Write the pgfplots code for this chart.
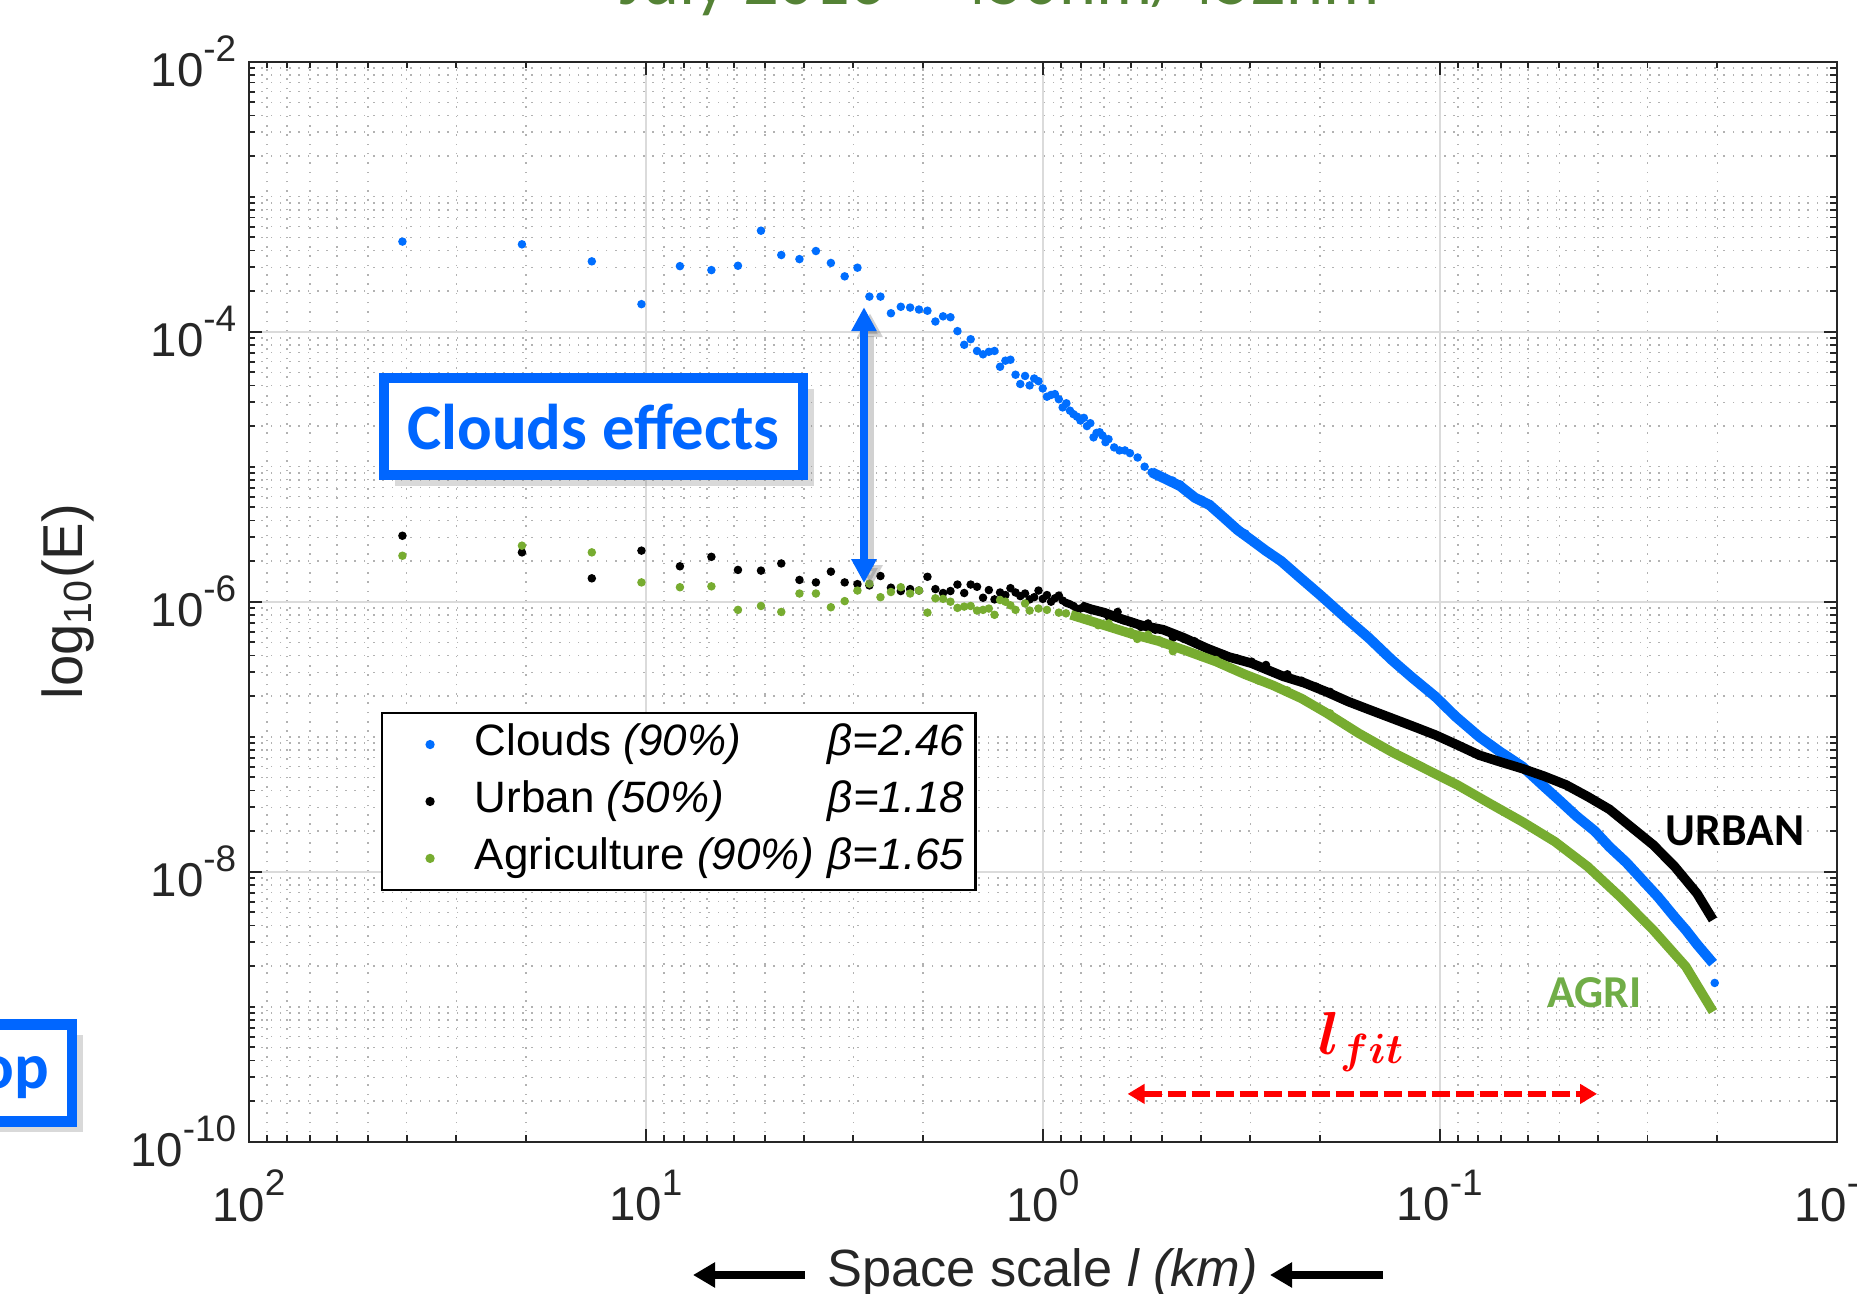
\documentclass[border=0pt]{standalone}
\usepackage{pgfplots}
\pgfplotsset{compat=1.18}
\usepackage{fontspec}
\setmainfont{Liberation Sans}
\newfontfamily\carlito{Carlito}
\usepackage{bm}
\usetikzlibrary{arrows.meta,shadows}
\definecolor{cblue}{RGB}{0,110,255}
\definecolor{cgreen}{RGB}{119,172,48}
\definecolor{boxblue}{RGB}{0,102,255}
\definecolor{agri}{RGB}{112,173,71}
\definecolor{titlegreen}{RGB}{84,130,53}
\definecolor{axgray}{RGB}{38,38,38}
\newcommand{\tlab}[1]{10\raisebox{0.53em}{\fontsize{10.5}{10.5}\selectfont #1}}

\pgfplotstableread{
l E
41 4.65e-4
20.5 4.44e-4
13.67 3.32e-4
10.25 1.60e-4
8.2 3.06e-4
6.833 2.86e-4
5.857 3.08e-4
5.125 5.60e-4
4.556 3.70e-4
4.1 3.45e-4
3.727 3.96e-4
3.417 3.23e-4
3.154 2.57e-4
2.929 2.98e-4
2.733 1.82e-4
2.563 1.82e-4
2.412 1.37e-4
2.278 1.53e-4
2.158 1.51e-4
2.05 1.46e-4
1.952 1.43e-4
1.864 1.19e-4
1.783 1.30e-4
1.708 1.28e-4
1.64 1.01e-4
1.577 8.0e-5
1.519 8.8e-5
1.464 7.2e-5
1.414 6.8e-5
1.367 7.1e-5
1.323 7.2e-5
1.281 5.5e-5
1.242 6.1e-5
1.206 6.2e-5
1.171 4.8e-5
1.139 4.1e-5
1.108 4.7e-5
1.079 4.0e-5
1.051 4.5e-5
1.025 4.3e-5
1.0 3.8e-5
0.976 3.3e-5
0.953 3.4e-5
0.932 3.45e-5
0.911 3.16e-5
0.891 2.75e-5
0.872 2.95e-5
0.854 2.6e-5
0.837 2.45e-5
0.82 2.35e-5
0.804 2.2e-5
0.788 2.3e-5
0.774 2.0e-5
0.759 2.1e-5
0.745 1.65e-5
0.732 1.78e-5
0.719 1.8e-5
0.707 1.7e-5
0.695 1.52e-5
0.683 1.6e-5
0.661 1.39e-5
0.641 1.32e-5
0.621 1.32e-5
0.603 1.26e-5
0.577 1.17e-5
0.554 1.0e-5
0.532 9.1e-6
0.513 8.7e-6
0.494 8.3e-6
0.471 7.9e-6
0.451 7.4e-6
0.431 6.5e-6
0.414 5.9e-6
0.398 5.7e-6
0.380 5.3e-6
0.365 4.7e-6
0.350 4.2e-6
0.337 3.8e-6
0.323 3.4e-6
0.309 3.2e-6
0.295 2.8e-6
0.0203 1.5e-9
}\cloudspts

\pgfplotstableread{
l E
0.532 9.1e-6
0.494 8.2e-6
0.451 7.2e-6
0.414 5.9e-6
0.380 5.2e-6
0.350 4.2e-6
0.323 3.4e-6
0.295 2.8e-6
0.275 2.4e-6
0.251 2.0e-6
0.225 1.51e-6
0.2 1.12e-6
0.17 7.3e-7
0.151 5.4e-7
0.132 3.7e-7
0.1175 2.75e-7
0.1026 1.98e-7
0.0912 1.41e-7
0.0796 1.0e-7
0.0708 7.8e-8
0.0619 6.0e-8
0.0546 4.27e-8
0.0501 3.4e-8
0.0452 2.57e-8
0.0407 2.0e-8
0.0374 1.53e-8
0.0339 1.17e-8
0.0309 8.7e-9
0.0282 6.5e-9
0.0256 4.6e-9
0.024 3.7e-9
0.0225 2.9e-9
0.0205 2.1e-9
}\cloudsline

\pgfplotstableread{
l E
41 3.08e-6
20.5 2.32e-6
13.67 1.49e-6
10.25 2.39e-6
8.2 1.83e-6
6.833 2.15e-6
5.857 1.72e-6
5.125 1.70e-6
4.556 1.92e-6
4.1 1.45e-6
3.727 1.39e-6
3.417 1.67e-6
3.154 1.39e-6
2.929 1.35e-6
2.733 1.32e-6
2.563 1.55e-6
2.412 1.27e-6
2.278 1.20e-6
2.158 1.24e-6
2.05 1.21e-6
1.952 1.53e-6
1.864 1.24e-6
1.783 1.16e-6
1.708 1.20e-6
1.64 1.34e-6
1.577 1.16e-6
1.519 1.34e-6
1.464 1.29e-6
1.414 1.07e-6
1.367 1.22e-6
1.323 1.04e-6
1.281 1.17e-6
1.242 1.12e-6
1.206 1.26e-6
1.171 1.17e-6
1.139 1.10e-6
1.108 1.15e-6
1.079 1.04e-6
1.051 1.08e-6
1.025 1.21e-6
1.0 1.05e-6
0.976 1.12e-6
0.953 1.0e-6
0.932 1.06e-6
0.911 1.11e-6
0.891 1.02e-6
0.872 9.8e-7
0.856 9.6e-7
0.837 9.3e-7
0.821 8.9e-7
0.804 8.9e-7
0.788 9.2e-7
0.756 8.7e-7
0.711 8.4e-7
0.682 7.7e-7
0.648 8.4e-7
0.628 7.3e-7
0.596 7.1e-7
0.566 6.5e-7
0.543 6.9e-7
0.521 6.2e-7
0.500 6.2e-7
0.470 5.4e-7
0.441 5.3e-7
0.415 5.1e-7
0.382 4.5e-7
0.352 4.1e-7
0.324 3.8e-7
0.298 3.6e-7
0.274 3.4e-7
0.242 2.9e-7
0.223 2.6e-7
0.205 2.35e-7
0.189 2.15e-7
}\urbanpts

\pgfplotstableread{
l E
0.80 9.3e-7
0.756 8.8e-7
0.70 8.3e-7
0.638 7.5e-7
0.566 6.7e-7
0.497 6.2e-7
0.441 5.4e-7
0.385 4.5e-7
0.340 3.9e-7
0.298 3.5e-7
0.248 2.8e-7
0.219 2.5e-7
0.193 2.15e-7
0.170 1.82e-7
0.150 1.58e-7
0.132 1.37e-7
0.1164 1.19e-7
0.1026 1.03e-7
0.0904 8.7e-8
0.0796 7.3e-8
0.0703 6.5e-8
0.0619 5.8e-8
0.0546 5.1e-8
0.0481 4.4e-8
0.0424 3.6e-8
0.0374 2.9e-8
0.0330 2.15e-8
0.0290 1.58e-8
0.0256 1.09e-8
0.0225 6.9e-9
0.0205 4.4e-9
}\urbanline

\pgfplotstableread{
l E
41 2.19e-6
20.5 2.60e-6
13.67 2.32e-6
10.25 1.39e-6
8.2 1.28e-6
6.833 1.30e-6
5.857 8.7e-7
5.125 9.3e-7
4.556 8.4e-7
4.1 1.15e-6
3.727 1.15e-6
3.417 9.1e-7
3.154 1.01e-6
2.929 1.21e-6
2.733 1.36e-6
2.563 1.08e-6
2.412 1.18e-6
2.278 1.28e-6
2.158 1.15e-6
2.05 1.21e-6
1.952 8.3e-7
1.864 1.06e-6
1.783 1.05e-6
1.708 1.0e-6
1.64 9.0e-7
1.577 9.2e-7
1.519 9.3e-7
1.464 8.6e-7
1.414 8.7e-7
1.367 8.9e-7
1.323 8.0e-7
1.281 1.03e-6
1.242 1.0e-6
1.206 9.4e-7
1.171 8.7e-7
1.108 9.7e-7
1.079 8.6e-7
1.025 8.9e-7
0.976 8.7e-7
0.911 8.3e-7
0.874 8.2e-7
0.821 7.7e-7
0.772 7.5e-7
0.725 6.7e-7
0.682 6.9e-7
0.641 6.2e-7
0.602 6.0e-7
0.578 5.3e-7
0.543 5.7e-7
0.510 5.2e-7
0.470 4.3e-7
0.432 4.3e-7
0.398 3.9e-7
0.366 3.7e-7
0.337 3.2e-7
0.310 2.9e-7
0.286 2.6e-7
0.263 2.4e-7
0.242 2.2e-7
0.223 1.92e-7
0.205 1.67e-7
0.189 1.49e-7
}\agripts

\pgfplotstableread{
l E
0.85 8.0e-7
0.724 6.9e-7
0.600 5.8e-7
0.510 5.1e-7
0.432 4.3e-7
0.366 3.6e-7
0.310 2.9e-7
0.263 2.4e-7
0.223 1.92e-7
0.193 1.50e-7
0.160 1.06e-7
0.132 7.7e-8
0.109 5.8e-8
0.0904 4.4e-8
0.0748 3.2e-8
0.0619 2.34e-8
0.0513 1.67e-8
0.0424 1.09e-8
0.0351 6.5e-9
0.0290 3.7e-9
0.0240 1.98e-9
0.0205 9.2e-10
}\agriline

\begin{document}
\begin{tikzpicture}
\begin{axis}[
  at={(0,0)}, anchor=south west,
  scale only axis, width=15.881cm, height=10.80cm,
  xmode=log, ymode=log,
  x dir=reverse,
  xmin=0.01, xmax=100, ymin=1e-10, ymax=1e-2,
  xtick={0.01,0.1,1,10,100},
  xticklabels={\tlab{-2},\tlab{-1},\tlab{0},\tlab{1},\tlab{2}},
  ytick={1e-10,1e-8,1e-6,1e-4,1e-2},
  yticklabels={\tlab{-10},\tlab{-8},\tlab{-6},\tlab{-4},\tlab{-2}},
  minor xtick={0.02,0.03,0.04,0.05,0.06,0.07,0.08,0.09,0.2,0.3,0.4,0.5,0.6,0.7,0.8,0.9,2,3,4,5,6,7,8,9,20,30,40,50,60,70,80,90},
  minor ytick={2e-10,3e-10,4e-10,5e-10,6e-10,7e-10,8e-10,9e-10,1e-9,2e-9,3e-9,4e-9,5e-9,6e-9,7e-9,8e-9,9e-9,2e-8,3e-8,4e-8,5e-8,6e-8,7e-8,8e-8,9e-8,1e-7,2e-7,3e-7,4e-7,5e-7,6e-7,7e-7,8e-7,9e-7,2e-6,3e-6,4e-6,5e-6,6e-6,7e-6,8e-6,9e-6,1e-5,2e-5,3e-5,4e-5,5e-5,6e-5,7e-5,8e-5,9e-5,2e-4,3e-4,4e-4,5e-4,6e-4,7e-4,8e-4,9e-4,1e-3,2e-3,3e-3,4e-3,5e-3,6e-3,7e-3,8e-3,9e-3},
  axis line style={draw=axgray, line width=0.6pt},
  tick style={draw=axgray, line width=0.5pt},
  major tick length=1.3mm, minor tick length=0.65mm,
  tick align=inside, tick pos=both,
  ticklabel style={font=\fontsize{13.5}{13.5}\selectfont, text=axgray},
  xticklabel style={yshift=-1.6mm},
  grid=both,
  major grid style={draw=black!14, line width=0.5pt},
  minor grid style={draw=black!30, line width=0.45pt, dash pattern=on 0.45pt off 2.2pt},
  xlabel={Space scale \textit{l (km)}},
  xlabel style={at={(axis description cs:0.5,-0.1345)}, anchor=base, font=\fontsize{14.9}{14.9}\selectfont, text=axgray},
  ylabel={log\textsubscript{10}(E)},
  ylabel style={at={(axis description cs:-0.1141,0.5)}, anchor=center, font=\fontsize{16}{16}\selectfont, text=axgray},
  clip mode=individual,
  legend style={at={(0.0833,0.398)}, anchor=north west, draw=black, line width=0.6pt, fill=white,
    font=\fontsize{12.5}{12.5}\selectfont, inner xsep=0.7mm, inner ysep=0.7mm, row sep=2.2pt,
    nodes={inner sep=1.2pt, text height=9pt, text depth=2.6pt}},
  legend cell align=left,
  legend image code/.code={\path (0cm,0cm) (0.796cm,0cm); \draw[mark repeat=1,#1] plot coordinates {(0.4cm,0cm)};},
]
\addplot[only marks, mark=*, mark size=1pt, color=cblue] table[x=l,y=E] {\cloudspts};
\addlegendentry{\makebox[35.3mm][l]{Clouds \textit{(90\%)}}\textit{β=2.46}}
\addplot[cblue, line width=2.9pt, forget plot] table[x=l,y=E] {\cloudsline};
\addplot[only marks, mark=*, mark size=1pt, color=black] table[x=l,y=E] {\urbanpts};
\addlegendentry{\makebox[35.3mm][l]{Urban \textit{(50\%)}}\textit{β=1.18}}
\addplot[black, line width=2.7pt, forget plot] table[x=l,y=E] {\urbanline};
\addplot[only marks, mark=*, mark size=1pt, color=cgreen] table[x=l,y=E] {\agripts};
\addlegendentry{\makebox[35.3mm][l]{Agriculture \textit{(90\%)}}\textit{β=1.65}}
\addplot[cgreen, line width=2.7pt, forget plot] table[x=l,y=E] {\agriline};

% annotations
\draw[black!60, opacity=0.3, line width=2.2pt, {Triangle[width=2.4mm,length=2.4mm]}-{Triangle[width=2.4mm,length=2.4mm]}]
  ([xshift=0.6mm,yshift=-0.6mm]axis cs:2.82,1.52e-4) -- ([xshift=0.6mm,yshift=-0.6mm]axis cs:2.82,1.375e-6);
\draw[boxblue, line width=2.2pt, {Triangle[width=2.4mm,length=2.4mm]}-{Triangle[width=2.4mm,length=2.4mm]}]
  (axis cs:2.82,1.52e-4) -- (axis cs:2.82,1.375e-6);
\node[draw=boxblue, line width=2.85pt, fill=white, inner xsep=2.3mm, minimum height=9.7mm,
  font=\carlito\bfseries\fontsize{18.4}{18.4}\selectfont, text=boxblue,
  drop shadow={opacity=0.3, shadow xshift=1.1mm, shadow yshift=-1.1mm}]
  at (axis cs:13.54,1.98e-5) {Clouds effects};
\draw[red, line width=1.5pt, dash pattern=on 1.8mm off 0.6mm, {Triangle[width=1.9mm,length=1.7mm]}-{Triangle[width=1.9mm,length=1.7mm]}]
  (axis cs:0.6114,2.26e-10) -- (axis cs:0.04016,2.26e-10);
\node[text=red, font=\fontsize{17}{17}\selectfont] at (axis cs:0.157,5.47e-10) {$\bm{l_{fit}}$};
\node[font=\carlito\bfseries\fontsize{13}{13}\selectfont, text=black] at (axis cs:0.01803,2.0e-8) {URBAN};
\node[font=\carlito\bfseries\fontsize{13}{13}\selectfont, text=agri] at (axis cs:0.0408,1.28e-9) {AGRI};
\end{axis}

% outside items (cm, origin at the axis' lower left corner)
\node[anchor=base, text=titlegreen, font=\carlito\fontsize{20}{20}\selectfont] at (7.51,11.367) {July 2016 – 450nm/452nm};
\node[draw=boxblue, line width=2.85pt, fill=white, inner xsep=2.3mm, minimum height=9.7mm,
  font=\carlito\bfseries\fontsize{18.4}{18.4}\selectfont, text=boxblue, anchor=east,
  drop shadow={opacity=0.3, shadow xshift=1.1mm, shadow yshift=-1.1mm}] at (-1.716,0.687) {Top};
\draw[black, line width=2pt, -{Triangle[width=2.4mm,length=2.2mm]}] (5.563,-1.333) -- (4.443,-1.333);
\draw[black, line width=2pt, -{Triangle[width=2.4mm,length=2.2mm]}] (11.343,-1.333) -- (10.213,-1.333);

\pgfresetboundingbox
\path[use as bounding box] (-2.487,-1.523) rectangle (16.083,11.417);
\end{tikzpicture}
\end{document}
